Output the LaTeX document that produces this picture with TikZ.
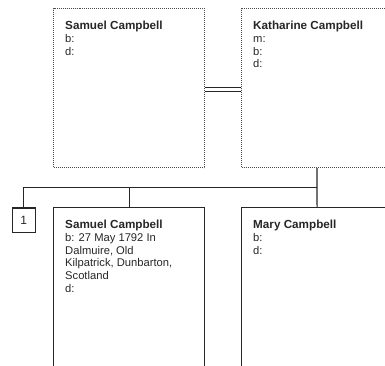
\documentclass[tikz,border=0pt]{standalone}
\usepackage{fontspec}
\setmainfont{Liberation Sans}
\usetikzlibrary{positioning}
\newcommand{\pname}[1]{{\fontsize{11.7}{12.7}\selectfont\bfseries #1}}
\begin{document}
\begin{tikzpicture}[
		x=1pt, y=-1pt,
		font=\fontsize{11.2}{12.7}\selectfont,
		every node/.style={
				text=black!85,
			},
		person/.style={
				draw=black!85, line width=1.2pt, anchor=north west,
				minimum width=151pt, minimum height=159pt, inner sep=0pt,
			},
		spouse/.style={
				person, draw=black!70, line width=1pt, dash pattern=on 1pt off 1pt,
			},
		info/.style={
				align=left, inner sep=0pt, below right=13pt and 12pt of #1.north west,
			},
		link/.style={
				draw=black!85, line width=1.2pt,
			},
	]
	\useasboundingbox (0,0) rectangle (385,365);
	% parents
	\node[spouse] (samuelsr) at (53,8) {};
	\node[spouse] (katharine) at (241,8) {};
	\node[info=samuelsr] {\pname{Samuel Campbell}\\b:\\d:};
	\node[info=katharine] {\pname{Katharine Campbell}\\m:\\b:\\d:};
	\draw[link, double, double distance=3pt, line width=1pt]
		([yshift=-1pt]samuelsr.east) -- ([yshift=-1pt]katharine.west);
	% children
	\node[person] (samueljr) at (53,207) {};
	\node[person] (mary) at (241,207) {};
	\node[info=samueljr] {\pname{Samuel Campbell}\\b: 27 May 1792 In\\Dalmuire, Old\\Kilpatrick, Dunbarton,\\Scotland\\d:};
	\node[info=mary] {\pname{Mary Campbell}\\b:\\d:};
	\node[draw=black!85, line width=1.2pt, anchor=north west, minimum width=23pt,
		minimum height=24.5pt, inner sep=0pt, font=\fontsize{12}{12}\selectfont] (one) at (11.7,207.3) {1};
	\coordinate[below=19.7pt of katharine.south] (fork);
	\draw[link] (katharine.south) -- (mary.north);
	\draw[link] (one.north) |- (fork);
	\draw[link] (samueljr.north) -- (samueljr.north |- fork);
\end{tikzpicture}
\end{document}
